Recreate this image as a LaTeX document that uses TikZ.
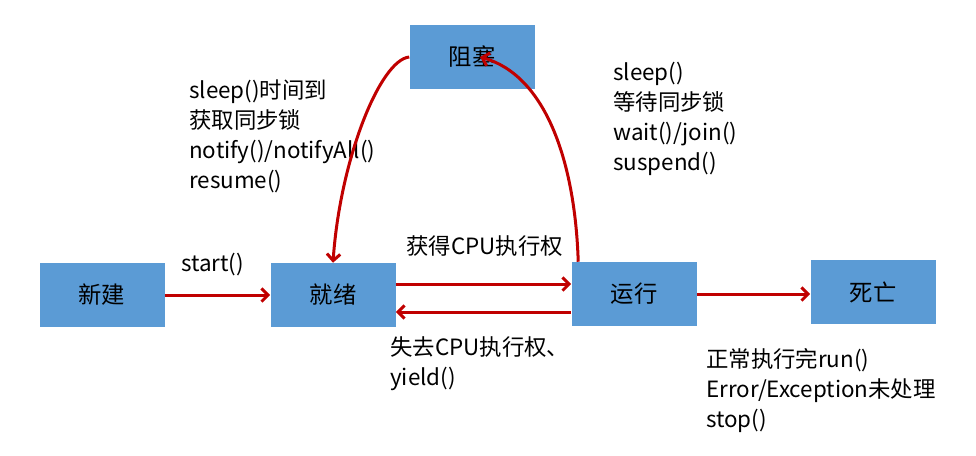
\documentclass[tikz,border=0pt]{standalone}
\usepackage{fontspec}
\setmainfont{Noto Sans CJK SC}
\usetikzlibrary{arrows.meta}
\definecolor{boxblue}{HTML}{5B9BD5}
\definecolor{arrowred}{HTML}{C00000}

\begin{document}
\begin{tikzpicture}[
        x=0.75pt, y=-0.75pt,
        state/.style={rectangle, fill=boxblue, minimum width=93.75pt, minimum height=48pt, font=\fontsize{17.5}{20}\selectfont},
        arrow/.style={draw=arrowred, line width=2.25pt, -{Straight Barb[length=5pt,width=10pt]}},
        note/.style={align=left, inner sep=0pt, anchor=west, font=\fontsize{16.8}{22.5}\selectfont}
    ]
        \useasboundingbox (0,0) rectangle (976,455);

        \node[state] (new) at (102, 295) {新建};
        \node[state] (ready) at (333, 295) {就绪};
        \node[state] (blocked) at (472, 57) {阻塞};
        \node[state] (run) at (634, 294) {运行};
        \node[state] (dead) at (873, 292) {死亡};

        \node[note] (startlbl) at (181, 265) {start()};
        \node[note] (getcpu) at (406, 246) {获得CPU执行权};
        \node[note] (losecpu) at (390, 364) {失去CPU执行权、\\yield()};
        \node[note] (wakeup) at (189, 136) {sleep()时间到\\获取同步锁\\notify()/notifyAll()\\resume()};
        \node[note] (sleep) at (613, 119) {sleep()\\等待同步锁\\wait()/join()\\suspend()};
        \node[note] (finish) at (706, 391) {正常执行完run()\\Error/Exception未处理\\stop()};

        \draw[arrow] (new.east) -- (ready.west);
        \draw[arrow] ([yshift=8.25pt]ready.east) coordinate (go) -- (go -| run.west);
        \draw[arrow] ([yshift=-13.5pt]run.west) coordinate (back) -- (back -| ready.east);
        \draw[arrow] (run.east) -- (run.east -| dead.west);
        \draw[arrow] ([xshift=5.25pt]run.north west) .. controls (575, 160) and (545, 75) .. ([xshift=6pt]blocked.center);
        \draw[arrow] (blocked.west) .. controls (380, 60) and (340, 160) .. (ready.north);
    \end{tikzpicture}
\end{document}
